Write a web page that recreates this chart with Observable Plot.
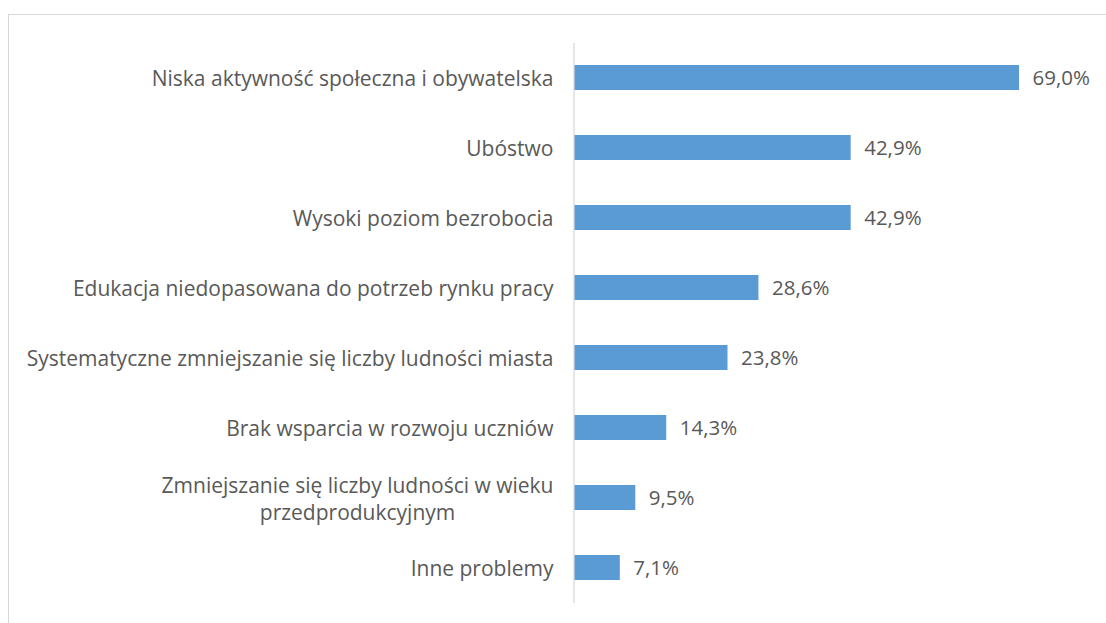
<!DOCTYPE html>
<html>
<head>
<meta charset="utf-8">
<script src="https://cdn.jsdelivr.net/npm/d3@7"></script>
<script src="https://cdn.jsdelivr.net/npm/@observablehq/plot@0.6"></script>
<style>
  html, body { margin: 0; padding: 0; background: #fff; }
  #wrap { position: relative; width: 1106px; height: 623px; overflow: hidden; }
  #frame { position: absolute; left: 8px; top: 14px; width: 1200px; height: 700px;
           border-top: 1px solid #d9d9d9; border-left: 1px solid #d9d9d9; pointer-events: none; }
  svg { position: absolute; left: 0; top: 0; }
</style>
</head>
<body>
<div id="wrap"><div id="frame"></div></div>
<script>
const categories = [
  "Niska aktywność społeczna i obywatelska",
  "Ubóstwo",
  "Wysoki poziom bezrobocia",
  "Edukacja niedopasowana do potrzeb rynku pracy",
  "Systematyczne zmniejszanie się liczby ludności miasta",
  "Brak wsparcia w rozwoju uczniów",
  "Zmniejszanie się liczby ludności w wieku\nprzedprodukcyjnym",
  "Inne problemy"
];
const values = [69.0, 42.9, 42.9, 28.6, 23.8, 14.3, 9.5, 7.1];

const data = categories.map((c, i) => ({category: c, value: values[i]}));
const fmt = v => v.toFixed(1).replace(".", ",") + "%";
const FONT = "'Open Sans', sans-serif";

const chart = Plot.plot({
  width: 1106,
  height: 623,
  marginLeft: 574,
  marginRight: 87,
  marginTop: 43,
  marginBottom: 20,
  style: {fontFamily: FONT, background: "transparent", color: "#595959"},
  x: {domain: [0, 69], axis: null},
  y: {domain: categories, paddingInner: 0.64, paddingOuter: 0.32, label: null},
  marks: [
    Plot.barX(data, {x: "value", y: "category", fill: "#5b9bd5"}),
    Plot.ruleX([0], {stroke: "#d9d9d9", strokeWidth: 1.3, dx: -0.5}),
    Plot.axisY({tickSize: 0, tickPadding: 21, fontSize: 21, fill: "#595959", lineHeight: 1.25}),
    Plot.text(data, {x: "value", y: "category", text: d => fmt(d.value), textAnchor: "start", dx: 13, fontSize: 20.5, fill: "#595959"})
  ]
});
document.getElementById("wrap").appendChild(chart);

// center the lines of the multi-line tick label within its block, as in the original
d3.select(chart).selectAll("g[aria-label='y-axis tick label'] text").each(function() {
  const t = d3.select(this);
  const tspans = t.selectAll("tspan");
  if (tspans.size() > 1) {
    const w = this.getBBox().width;
    t.attr("text-anchor", "middle");
    const baseX = +t.attr("x") || 0;
    tspans.attr("x", baseX - w / 2);
  }
});
</script>
</body>
</html>
